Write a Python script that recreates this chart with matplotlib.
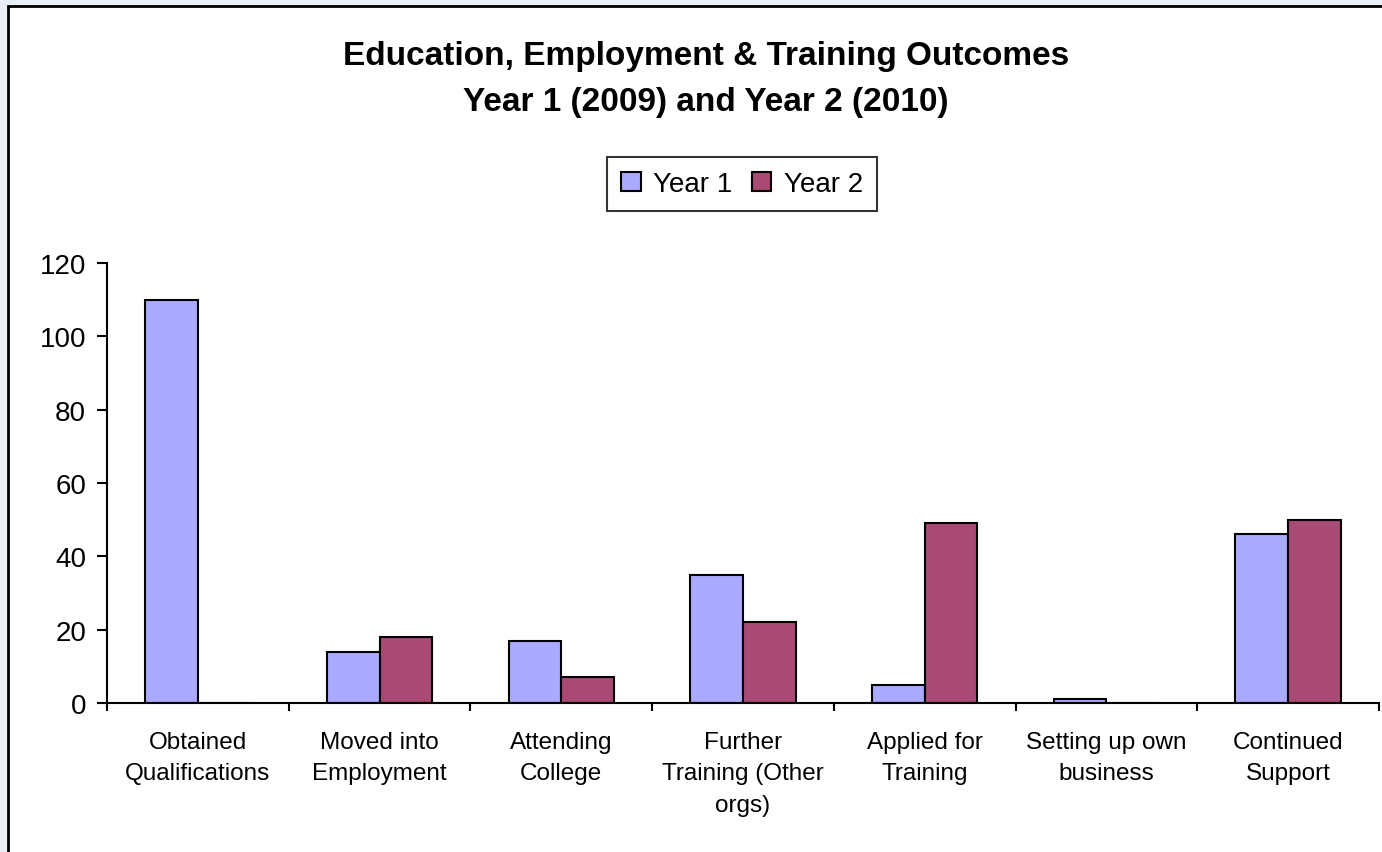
import matplotlib.pyplot as plt
import matplotlib.patches as patches
import numpy as np

CATEGORIES = ["Obtained\nQualifications", "Moved into\nEmployment", "Attending\nCollege",
              "Further\nTraining (Other\norgs)", "Applied for\nTraining",
              "Setting up own\nbusiness", "Continued\nSupport"]
YEAR1 = [110, 14, 17, 35, 5, 1, 46]
YEAR2 = [0, 18, 7, 22, 49, 0, 50]
SERIES_NAMES = ["Year 1", "Year 2"]
YTICKS = [0, 20, 40, 60, 80, 100, 120]

plt.rcParams['font.family'] = ['Liberation Sans', 'DejaVu Sans']

W, H = 1382, 853
fig = plt.figure(figsize=(W / 100, H / 100), dpi=100)
fig.patch.set_facecolor('#e9eef6')

# white chart area with black border (right/bottom run off the picture)
bg = patches.Rectangle((8 / W, -0.05), 1.1, 1 - 7 / H + 0.05, transform=fig.transFigure,
                       facecolor='white', edgecolor='black', linewidth=2.0, zorder=-1)
fig.patches.append(bg)

ax = fig.add_axes([107 / W, 1 - 704 / H, (1379 - 107) / W, (704 - 264) / H])
ax.patch.set_alpha(0)

x = np.arange(len(CATEGORIES))
bw = 0.29
b1 = ax.bar(x - bw / 2, YEAR1, bw, color='#aaaaff', edgecolor='black', linewidth=1.5,
            label=SERIES_NAMES[0])
b2 = ax.bar(x + bw / 2, YEAR2, bw, color='#a94a75', edgecolor='black', linewidth=1.5,
            label=SERIES_NAMES[1])

ax.set_xlim(-0.5, len(CATEGORIES) - 0.5)
ax.set_ylim(0, 120)
ax.set_yticks(YTICKS)
ax.set_xticks(x)
ax.set_xticklabels(CATEGORIES, fontsize=17.5, linespacing=1.56, va='top')
ax.set_xticks(np.arange(len(CATEGORIES) + 1) - 0.5, minor=True)
ax.tick_params(axis='x', which='major', length=0, pad=20)
ax.tick_params(axis='x', which='minor', length=6, width=1.5, direction='out')
ax.tick_params(axis='y', labelsize=20, length=7, width=1.5, direction='out', pad=8)

for s in ['top', 'right']:
    ax.spines[s].set_visible(False)
for s in ['left', 'bottom']:
    ax.spines[s].set_linewidth(1.5)

fig.text(706 / W, 1 - 57 / H, "Education, Employment & Training Outcomes",
         ha='center', va='center', fontsize=24, fontweight='bold')
fig.text(706 / W, 1 - 103 / H, "Year 1 (2009) and Year 2 (2010)",
         ha='center', va='center', fontsize=24, fontweight='bold')

leg = fig.legend(handles=[b1, b2], loc='center', bbox_to_anchor=(742 / W, 1 - 185 / H),
                 ncol=2, fontsize=20, frameon=True, fancybox=False, handlelength=0.7,
                 handleheight=0.7, handletextpad=0.45, columnspacing=0.7,
                 borderpad=0.5, edgecolor='black')
leg.get_frame().set_linewidth(1.5)

fig.savefig("out.png", dpi=100)
